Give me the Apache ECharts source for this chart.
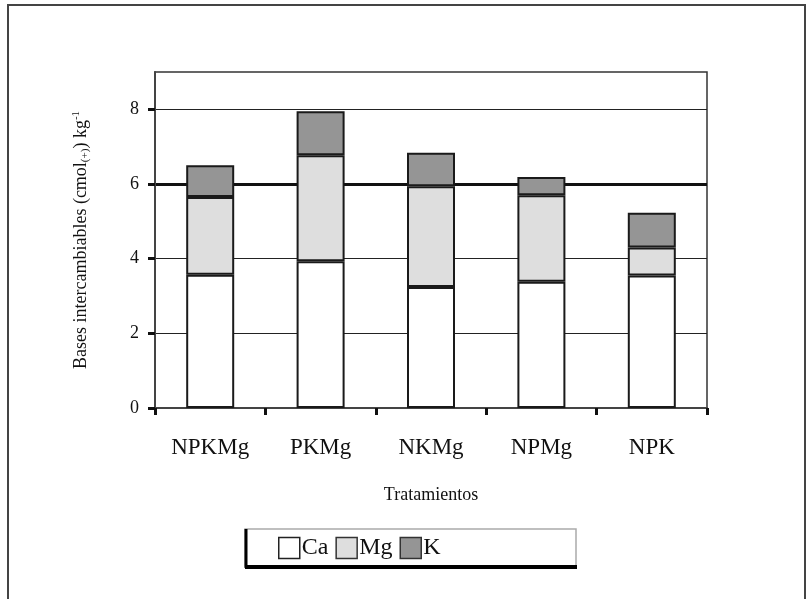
<!DOCTYPE html>
<html>
<head>
<meta charset="utf-8">
<script src="https://cdn.jsdelivr.net/npm/echarts@6/dist/echarts.min.js"></script>
<style>
  html, body { margin: 0; padding: 0; background: #fff; }
  #chart { width: 811px; height: 599px; }
</style>
</head>
<body>
<div id="chart"></div>
<script>
// Exchangeable bases per treatment (cmol(+) kg-1), stacked Ca / Mg / K
const treatments = ['NPKMg', 'PKMg', 'NKMg', 'NPMg', 'NPK'];
const caValues = [3.57, 3.93, 3.24, 3.38, 3.55];
const mgValues = [2.08, 2.84, 2.70, 2.32, 0.75];
const kValues  = [0.85, 1.18, 0.90, 0.49, 0.93];
const yTicks = [0, 2, 4, 6, 8];
const referenceLevel = 6;

const serif = '"Liberation Serif", "Times New Roman", serif';

const chart = echarts.init(document.getElementById('chart'), null, { renderer: 'canvas' });

function barSeries(name, values, fill) {
  return {
    name: name,
    type: 'bar',
    stack: 'bases',
    barWidth: 48,
    data: values,
    itemStyle: { color: fill, borderColor: '#1a1a1a', borderWidth: 2 }
  };
}

chart.setOption({
  backgroundColor: '#ffffff',
  animation: false,
  grid: {
    left: 155, right: 104, top: 72, bottom: 191,
    show: true, borderColor: '#333', borderWidth: 1.5, backgroundColor: 'transparent'
  },
  legend: {
    data: [
      { name: 'Ca', itemStyle: { borderColor: '#222', borderWidth: 1.5 } },
      { name: 'Mg', itemStyle: { borderColor: '#333', borderWidth: 1.5 } },
      { name: 'K',  itemStyle: { borderColor: '#333', borderWidth: 1.5 } }
    ],
    left: 278, top: 536,
    icon: 'rect',
    itemWidth: 21, itemHeight: 21, itemGap: 7,
    padding: 0,
    textStyle: { fontFamily: serif, fontSize: 24, color: '#111', padding: [0, 0, 0, -3] }
  },
  xAxis: {
    type: 'category',
    data: treatments,
    name: 'Tratamientos',
    nameLocation: 'middle',
    nameGap: 78,
    nameTextStyle: { fontFamily: serif, fontSize: 18, color: '#111' },
    axisLine: { lineStyle: { color: '#444', width: 2 } },
    axisTick: { show: true, length: 7, lineStyle: { color: '#111', width: 3 } },
    axisLabel: { fontFamily: serif, fontSize: 23, color: '#111', margin: 28 },
    splitLine: { show: false }
  },
  yAxis: [
    {
      type: 'value',
      min: 0, max: 9, interval: 1,
      name: '{n|Bases intercambiables (cmol}{s|(+)}{n|) kg}{p|-1}',
      nameLocation: 'middle',
      nameRotate: 90,
      nameGap: 63,
      nameTextStyle: {
        rich: {
          n: { fontFamily: serif, fontSize: 18, color: '#111' },
          s: { fontFamily: serif, fontSize: 11, color: '#111', padding: [8, 0, 0, 0] },
          p: { fontFamily: serif, fontSize: 11, color: '#111', padding: [0, 0, 10, 0] }
        }
      },
      axisLine: { show: true, lineStyle: { color: '#444', width: 2 } },
      axisTick: { show: true, length: 7, lineStyle: { color: '#111', width: 3 }, customValues: yTicks },
      axisLabel: { fontFamily: serif, fontSize: 18, color: '#111', margin: 16, customValues: yTicks },
      splitLine: { show: true, lineStyle: { color: '#222', width: 1 } }
    },
    {
      // companion axis that only draws the heavy reference gridline
      type: 'value',
      min: 0, max: 9,
      position: 'left',
      axisLine: { show: false },
      axisTick: { show: false, customValues: [referenceLevel] },
      axisLabel: { show: false, customValues: [referenceLevel] },
      splitLine: { show: true, lineStyle: { color: '#111', width: 3 } }
    }
  ],
  series: [
    barSeries('Ca', caValues, '#ffffff'),
    barSeries('Mg', mgValues, '#dedede'),
    barSeries('K', kValues, '#959595')
  ],
  graphic: [
    {
      type: 'rect', silent: true, z: -10,
      shape: { x: 8, y: 5, width: 797, height: 640 },
      style: { fill: 'none', stroke: '#444', lineWidth: 2 }
    },
    {
      type: 'group', silent: true, z: -5,
      children: [
        { type: 'rect', shape: { x: 245, y: 529, width: 331, height: 37 },
          style: { fill: '#fff', stroke: '#aaa', lineWidth: 1.5 } },
        { type: 'line', shape: { x1: 246, y1: 529, x2: 246, y2: 568 },
          style: { stroke: '#000', lineWidth: 3 } },
        { type: 'line', shape: { x1: 245, y1: 567, x2: 577, y2: 567 },
          style: { stroke: '#000', lineWidth: 4 } }
      ]
    }
  ]
});
</script>
</body>
</html>
